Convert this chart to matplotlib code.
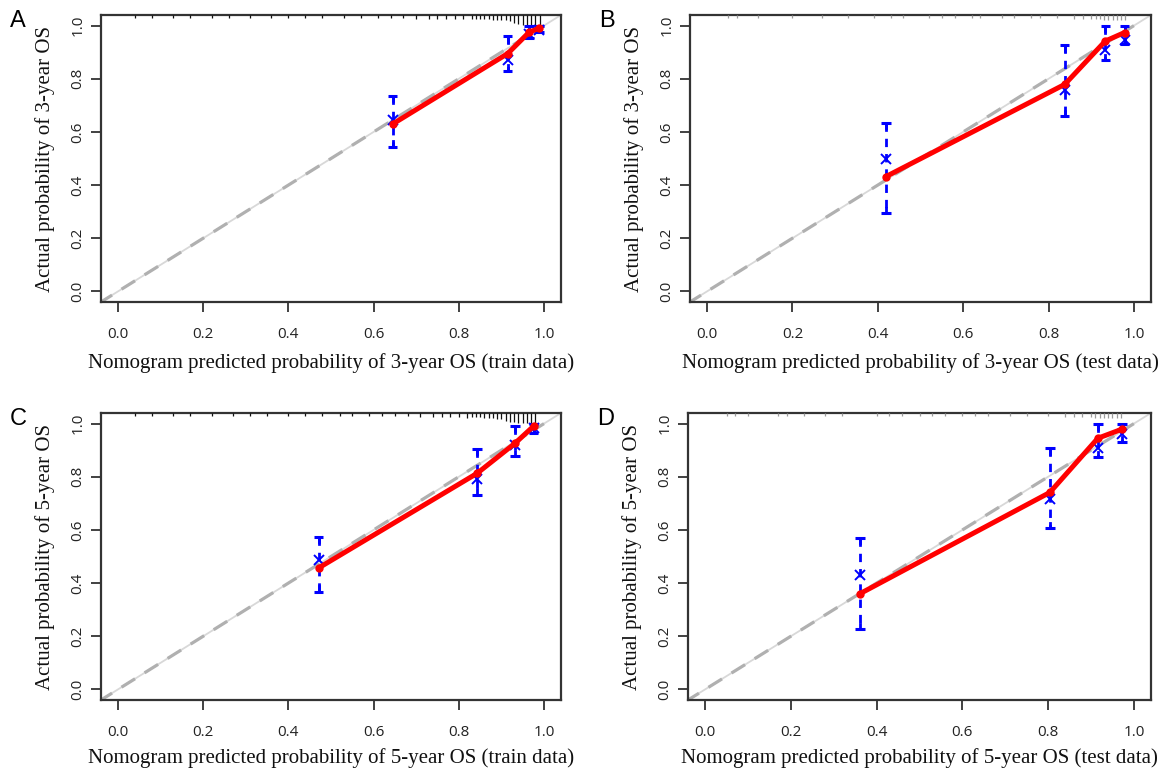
import matplotlib
matplotlib.use("Agg")
import matplotlib.pyplot as plt

# ---------------- data ----------------
panel_letters = ["A", "B", "C", "D"]
x_labels = [
    "Nomogram predicted probability of 3-year OS (train data)",
    "Nomogram predicted probability of 3-year OS (test data)",
    "Nomogram predicted probability of 5-year OS (train data)",
    "Nomogram predicted probability of 5-year OS (test data)",
]
y_labels = [
    "Actual probability of 3-year OS",
    "Actual probability of 3-year OS",
    "Actual probability of 5-year OS",
    "Actual probability of 5-year OS",
]
tick_values = [0.0, 0.2, 0.4, 0.6, 0.8, 1.0]
tick_labels = ["0.0", "0.2", "0.4", "0.6", "0.8", "1.0"]

# predicted (x), apparent calibration (red), observed (blue x), CI low/high
pred_A = [0.645, 0.915, 0.965, 0.988]
cal_A = [0.630, 0.895, 0.975, 0.990]
obs_A = [0.645, 0.870, 0.970, 0.985]
lo_A = [0.545, 0.830, 0.955, 0.975]
hi_A = [0.735, 0.960, 0.998, 1.000]

pred_B = [0.419, 0.838, 0.933, 0.978]
cal_B = [0.432, 0.779, 0.942, 0.974]
obs_B = [0.500, 0.757, 0.910, 0.945]
lo_B = [0.295, 0.660, 0.870, 0.932]
hi_B = [0.635, 0.926, 1.000, 1.000]

pred_C = [0.471, 0.843, 0.932, 0.976]
cal_C = [0.457, 0.813, 0.926, 0.991]
obs_C = [0.488, 0.790, 0.919, 0.985]
lo_C = [0.368, 0.733, 0.877, 0.966]
hi_C = [0.574, 0.904, 0.991, 1.000]

pred_D = [0.361, 0.804, 0.916, 0.972]
cal_D = [0.360, 0.741, 0.945, 0.979]
obs_D = [0.429, 0.716, 0.910, 0.960]
lo_D = [0.226, 0.606, 0.875, 0.931]
hi_D = [0.571, 0.907, 1.000, 1.000]

# rug of predicted values along the top (position, relative count)
rug_A_x = [0.04, 0.08, 0.13, 0.17, 0.22, 0.26, 0.31, 0.36, 0.40, 0.44, 0.48, 0.53,
           0.57, 0.61, 0.64, 0.67, 0.70, 0.73, 0.75, 0.77, 0.79, 0.81, 0.83, 0.84,
           0.85, 0.86, 0.87, 0.88, 0.89, 0.90, 0.91, 0.92, 0.93, 0.94, 0.95, 0.96,
           0.97, 0.98, 0.99]
rug_A_n = [1, 1, 1, 1, 1, 1, 1, 1, 1, 1, 1, 1,
           1, 1, 1, 1, 2, 2, 2, 2, 2, 2, 2, 2,
           2, 2, 2, 3, 3, 3, 3, 4, 5, 6, 7, 8,
           8, 8, 8]
rug_B_x = [0.05, 0.07, 0.12, 0.20, 0.27, 0.33, 0.39, 0.43, 0.46, 0.52, 0.55, 0.58,
           0.62, 0.64, 0.69, 0.72, 0.76, 0.78, 0.82, 0.86, 0.88, 0.90, 0.91, 0.92,
           0.93, 0.94, 0.95, 0.96, 0.97, 0.98]
rug_B_n = [1] * 18 + [1, 2, 2, 2, 2, 2, 3, 3, 3, 3, 3, 3]
rug_C_x = [0.04, 0.08, 0.13, 0.17, 0.22, 0.27, 0.31, 0.35, 0.40, 0.44, 0.48, 0.52,
           0.55, 0.59, 0.62, 0.65, 0.68, 0.71, 0.74, 0.76, 0.78, 0.80, 0.82, 0.83,
           0.84, 0.85, 0.86, 0.87, 0.88, 0.89, 0.90, 0.91, 0.92, 0.93, 0.94, 0.95,
           0.96, 0.97, 0.98]
rug_C_n = [1, 1, 1, 1, 1, 1, 1, 1, 1, 1, 1, 1,
           1, 1, 1, 1, 1, 2, 2, 2, 2, 2, 3, 2,
           2, 2, 3, 3, 3, 4, 4, 5, 6, 6, 7, 7,
           7, 7, 7]
rug_D_x = [0.05, 0.07, 0.10, 0.17, 0.19, 0.23, 0.28, 0.32, 0.40, 0.43, 0.46, 0.50,
           0.53, 0.56, 0.60, 0.63, 0.66, 0.71, 0.75, 0.80, 0.84, 0.86, 0.88, 0.90,
           0.91, 0.92, 0.93, 0.94, 0.95, 0.96, 0.97]
rug_D_n = [1] * 19 + [1, 2, 2, 2, 2, 3, 3, 3, 3, 3, 3, 3]

# ---------------- layout (pixels) ----------------
W, H = 1159, 772
# left, right, top, bottom of each plotting box in pixels
boxes = [(101, 561, 15, 302), (690, 1151, 15, 302),
         (101, 561, 413, 700), (688, 1151, 413, 700)]
xlim = (-0.04, 1.04)
ylim = (-0.04, 1.04)

panels = [
    (pred_A, cal_A, obs_A, lo_A, hi_A, rug_A_x, rug_A_n, "#111111"),
    (pred_B, cal_B, obs_B, lo_B, hi_B, rug_B_x, rug_B_n, "#9a9a9a"),
    (pred_C, cal_C, obs_C, lo_C, hi_C, rug_C_x, rug_C_n, "#111111"),
    (pred_D, cal_D, obs_D, lo_D, hi_D, rug_D_x, rug_D_n, "#9a9a9a"),
]

fig = plt.figure(figsize=(W / 100, H / 100), dpi=100)
fig.patch.set_facecolor("white")

serif = ["Liberation Serif", "DejaVu Serif"]
sans = ["Liberation Sans", "DejaVu Sans"]
tick_font = ["Open Sans", "DejaVu Sans"]

for i, (box, pdata) in enumerate(zip(boxes, panels)):
    l, r, t, b = box
    ax = fig.add_axes([l / W, 1 - b / H, (r - l) / W, (b - t) / H])
    pred, cal, obs, lo, hi, rx, rn, rugc = pdata
    ax.set_xlim(*xlim)
    ax.set_ylim(*ylim)

    # ideal lines
    ax.plot([-0.1, 1.1], [-0.1, 1.1], color="#d8d8d8", lw=1.3, zorder=1)
    ax.plot([-0.1, 1.0], [-0.1, 1.0], color="#b0b0b0", lw=2.3,
            dashes=(5, 3.5), zorder=2)

    # rug at the top
    top = ylim[1]
    for xv, nv in zip(rx, rn):
        ax.plot([xv, xv], [top, top - 0.006 - 0.0045 * nv], color=rugc,
                lw=0.9, zorder=3, solid_capstyle="butt")

    # error bars (dashed, with caps)
    for xv, lv, hv, ov in zip(pred, lo, hi, obs):
        ax.plot([xv, xv], [hv, lv], color="#0000ff", lw=2.0,
                dashes=(3.0, 2.5), zorder=4, solid_capstyle="butt")
        ax.plot([xv, xv], [hv, hv - 0.02], color="#0000ff", lw=2.0, zorder=4)
        ax.plot([xv, xv], [lv, lv + 0.02], color="#0000ff", lw=2.0, zorder=4)
        for cv in (lv, hv):
            ax.plot([xv - 0.011, xv + 0.011], [cv, cv], color="#0000ff",
                    lw=2.2, zorder=4, solid_capstyle="butt")
    ax.plot(pred, obs, linestyle="none", marker="x", color="#0000ff",
            markersize=7, mew=1.4, zorder=5)

    # calibration curve
    ax.plot(pred, cal, color="#ff0000", lw=3.6, marker="o", markersize=5,
            zorder=6, solid_capstyle="round")

    # axes styling
    for s in ax.spines.values():
        s.set_color("#333333")
        s.set_linewidth(1.6)
    ax.set_xticks(tick_values)
    ax.set_xticklabels(tick_labels, fontfamily=tick_font, fontsize=11,
                       color="#222222")
    ax.set_yticks(tick_values)
    ax.set_yticklabels(tick_labels, fontfamily=tick_font, fontsize=11,
                       color="#222222", rotation=90, va="center")
    ax.tick_params(axis="x", direction="out", length=7, width=1.3,
                   colors="#333333", pad=11, labelcolor="#222222")
    ax.tick_params(axis="y", direction="out", length=7, width=1.3,
                   colors="#333333", pad=4, labelcolor="#222222")
    ax.set_xlabel(x_labels[i], fontfamily=serif, fontsize=15,
                  color="#111111", labelpad=8 if i < 2 else 6)
    ax.set_ylabel(y_labels[i], fontfamily=serif, fontsize=15,
                  color="#111111", labelpad=11)

    # panel letter
    fig.text((l - 91) / W, 1 - (t + 6) / H, panel_letters[i],
             fontfamily=sans, fontsize=17, color="#000000",
             ha="left", va="center")

fig.savefig("out.png", dpi=100, facecolor="white")
